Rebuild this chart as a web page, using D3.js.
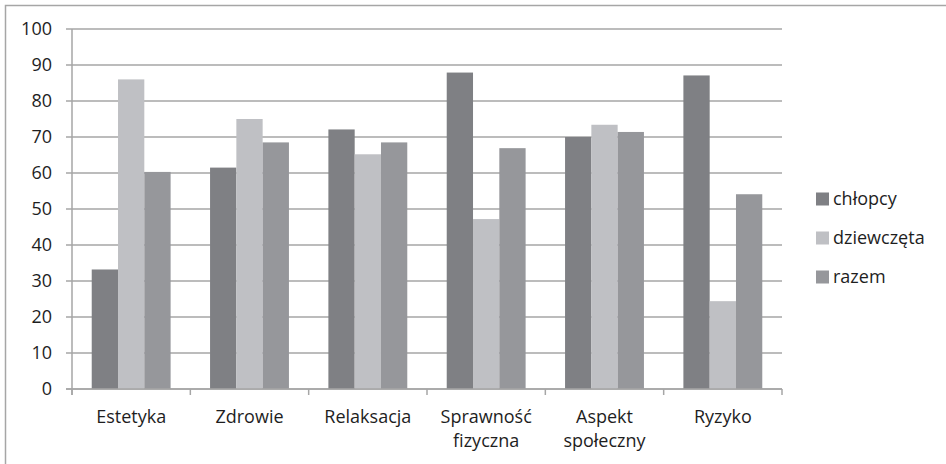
<!DOCTYPE html>
<html><head><meta charset="utf-8">
<script src="https://cdn.jsdelivr.net/npm/d3@7/dist/d3.min.js"></script>
<style>body{margin:0;background:#fff}svg{display:block}</style>
</head><body>
<script>
const categories = ["Estetyka","Zdrowie","Relaksacja","Sprawność fizyczna","Aspekt społeczny","Ryzyko"];
const categoryLines = [["Estetyka"],["Zdrowie"],["Relaksacja"],["Sprawność","fizyczna"],["Aspekt","społeczny"],["Ryzyko"]];
const seriesNames = ["chłopcy","dziewczęta","razem"];
const chlopcy = [33.2, 61.5, 72.1, 87.9, 70.0, 87.1];
const dziewczeta = [86.0, 75.0, 65.2, 47.2, 73.4, 24.4];
const razem = [60.3, 68.5, 68.5, 66.9, 71.4, 54.1];
const yTicks = [0,10,20,30,40,50,60,70,80,90,100];
const colors = ["#7f8084","#bfc0c4","#96979b"];

const W=946,H=464;
const svg=d3.select("body").append("svg").attr("width",W).attr("height",H);
const font="'Open Sans', sans-serif";
const textColor="#1e1e1e";
svg.append("rect").attr("x",5.5).attr("y",5.5).attr("width",960).attr("height",480)
  .attr("fill","none").attr("stroke","#a6a6a6").attr("stroke-width",1.5);

const L=72,R=782,T=29,B=389;
const x=d3.scaleBand().domain(categories).range([L,R]).paddingInner(0).paddingOuter(0);
const x1=d3.scaleBand().domain(seriesNames).range([0,x.bandwidth()]).paddingInner(0).paddingOuter(0.75);
const y=d3.scaleLinear().domain([0,100]).range([B,T]);

// gridlines
svg.append("g").selectAll("line").data(yTicks).join("line")
  .attr("x1",L-6).attr("x2",R).attr("y1",d=>y(d)).attr("y2",d=>y(d))
  .attr("stroke","#a6a6a6").attr("stroke-width",1.5);
// y labels
svg.append("g").selectAll("text").data(yTicks).join("text")
  .attr("x",52).attr("y",d=>y(d)).attr("dy","0.36em").attr("text-anchor","end")
  .attr("font-family",font).attr("font-size",18).attr("fill",textColor).text(d=>d);

const series=[chlopcy,dziewczeta,razem];
const data=[];
categories.forEach((c,i)=>series.forEach((s,j)=>data.push({c,s:seriesNames[j],v:s[i],j})));
svg.append("g").selectAll("rect").data(data).join("rect")
  .attr("x",d=>x(d.c)+x1(d.s)).attr("width",x1.bandwidth())
  .attr("y",d=>y(d.v)).attr("height",d=>y(0)-y(d.v))
  .attr("fill",d=>colors[d.j]);

// axes lines
svg.append("line").attr("x1",L).attr("x2",L).attr("y1",T).attr("y2",B+6).attr("stroke","#a6a6a6").attr("stroke-width",1.5);
svg.append("line").attr("x1",L-6).attr("x2",R).attr("y1",B).attr("y2",B).attr("stroke","#a6a6a6").attr("stroke-width",1.5);
const bounds=categories.map(c=>x(c)).concat([R]);
svg.append("g").selectAll("line").data(bounds).join("line")
  .attr("x1",d=>d).attr("x2",d=>d).attr("y1",B).attr("y2",B+6)
  .attr("stroke","#a6a6a6").attr("stroke-width",1.5);

// category labels
const cl=svg.append("g").selectAll("text").data(categories).join("text")
  .attr("x",d=>x(d)+x.bandwidth()/2).attr("y",423).attr("text-anchor","middle")
  .attr("font-family",font).attr("font-size",18).attr("fill",textColor);
cl.each(function(d,i){
  d3.select(this).selectAll("tspan").data(categoryLines[i]).join("tspan")
    .attr("x",x(d)+x.bandwidth()/2).attr("dy",(t,k)=>k===0?0:24).text(t=>t);
});

// legend
const lg=svg.append("g").selectAll("g").data(seriesNames).join("g")
  .attr("transform",(d,i)=>`translate(816,${199+i*39})`);
lg.append("rect").attr("x",0).attr("y",-6.5).attr("width",13).attr("height",13).attr("fill",(d,i)=>colors[i]);
lg.append("text").attr("x",17).attr("y",0).attr("dy","0.36em")
  .attr("font-family",font).attr("font-size",18).attr("fill",textColor).text(d=>d);
</script>
</body></html>
